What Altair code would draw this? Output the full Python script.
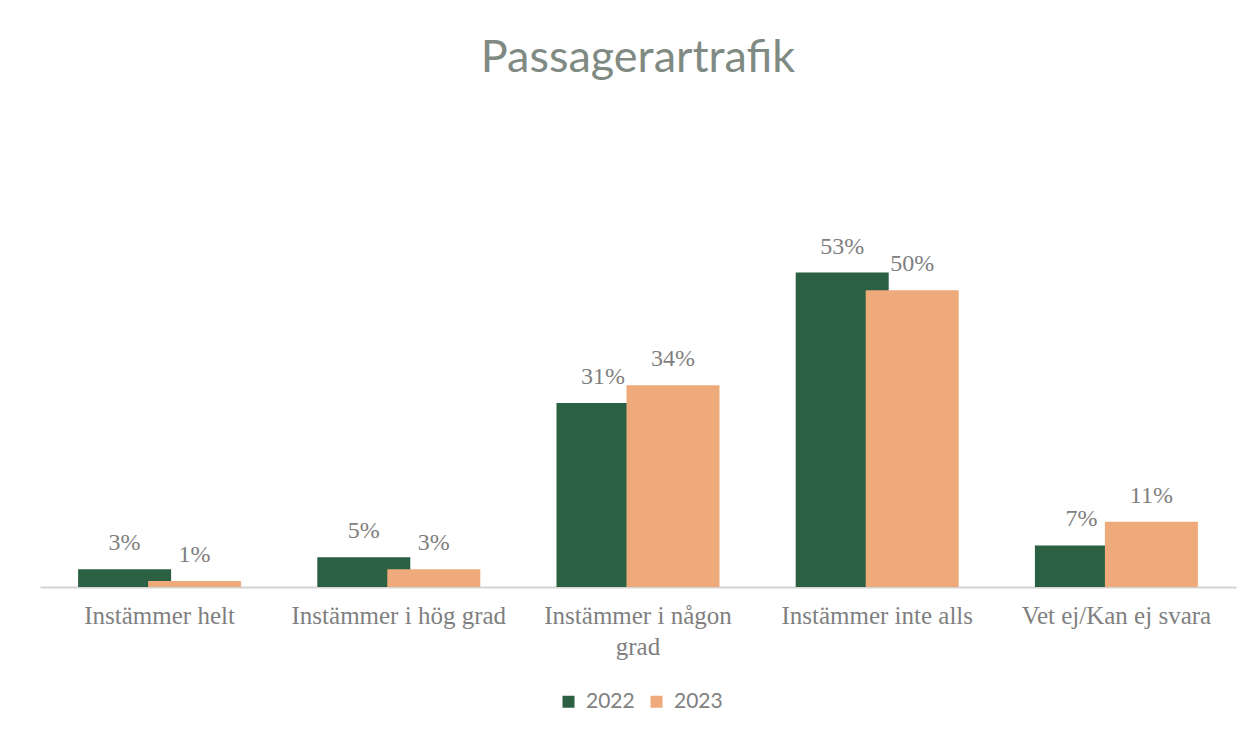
import altair as alt
import pandas as pd

categories = ["Instämmer helt", "Instämmer i hög grad", "Instämmer i någon grad",
              "Instämmer inte alls", "Vet ej/Kan ej svara"]
values_2022 = [3, 5, 31, 53, 7]
values_2023 = [1, 3, 34, 50, 11]
years = ["2022", "2023"]
colors = ["#2b6142", "#efaa7b"]

rows = []
for c, a, b in zip(categories, values_2022, values_2023):
    rows.append({"cat": c, "year": "2022", "value": a})
    rows.append({"cat": c, "year": "2023", "value": b})
df = pd.DataFrame(rows)

label_color = "#7f7f7f"
serif = "Liberation Serif"

x = alt.X("cat:N", sort=categories, title=None,
          scale=alt.Scale(paddingInner=0, paddingOuter=0),
          axis=alt.Axis(labelAngle=0, ticks=False, domainColor="#d4d4d4", domainWidth=2,
                        labelFont=serif, labelFontSize=25, labelColor=label_color,
                        labelPadding=16, labelLineHeight=31, labelLimit=400,
                        labelExpr="datum.label == 'Instämmer i någon grad' ? ['Instämmer i någon', 'grad'] : datum.label"))
y = alt.Y("value:Q", scale=alt.Scale(domain=[0, 60]), axis=None)
color = alt.Color("year:N", scale=alt.Scale(domain=years, range=colors), title=None,
                  legend=alt.Legend(orient="none", legendX=518, legendY=460, direction="horizontal",
                                    symbolType="square", symbolSize=144, symbolStrokeWidth=0,
                                    labelFont="Lato", labelFontSize=21, labelColor=label_color,
                                    labelOffset=7, columnPadding=11, padding=0))

base = alt.Chart(df)
layers = []
for yr, off in zip(years, [-35, 35]):
    sub = base.transform_filter(alt.datum.year == yr)
    layers.append(sub.mark_bar(width=93, xOffset=off).encode(x=x, y=y, color=color))
for yr, off in zip(years, [-35, 35]):
    sub = base.transform_filter(alt.datum.year == yr).transform_calculate(label="datum.value + '%'")
    layers.append(sub.mark_text(xOffset=off, dy=-19, baseline="alphabetic", font=serif,
                                fontSize=24, color=label_color).encode(x=x, y=y, text="label:N"))

chart = alt.layer(*layers).properties(
    width=1196, height=356,
    autosize=alt.AutoSizeParams(type="none"),
    padding={"left": 32, "top": 223, "right": 9, "bottom": 136},
    title=alt.TitleParams("Passagerartrafik", font="Lato", fontSize=45, fontWeight="normal",
                          color="#7f8a83", anchor="middle", offset=150),
    background="white",
).configure_view(stroke=None)

chart.save("out.html", embed_options={"renderer": "svg", "actions": False})
